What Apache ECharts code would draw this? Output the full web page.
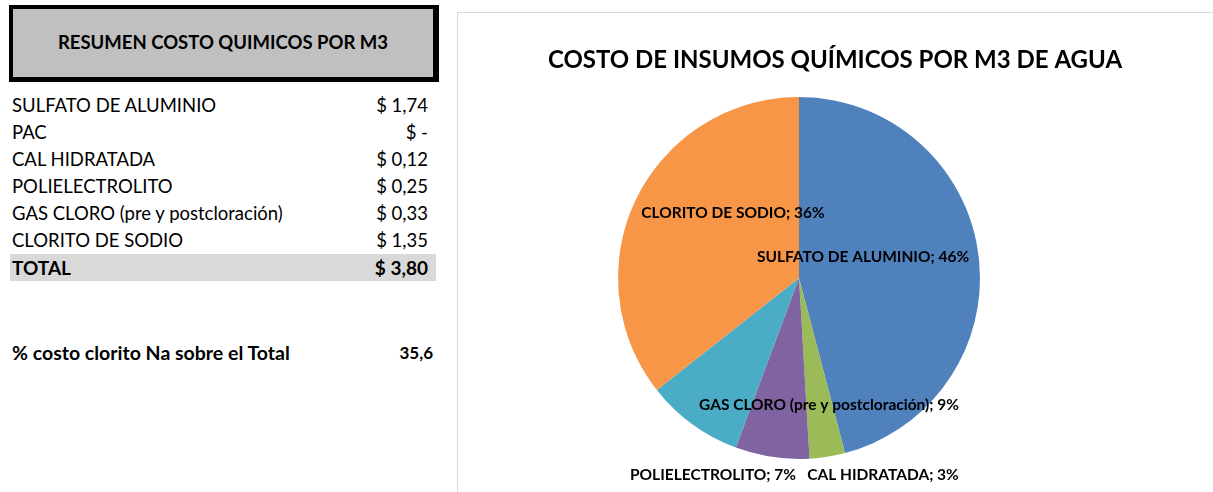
<!DOCTYPE html>
<html>
<head>
<meta charset="utf-8">
<script src="https://cdn.jsdelivr.net/npm/echarts@6/dist/echarts.min.js"></script>
<style>
  html, body { margin: 0; padding: 0; width: 1213px; height: 492px; overflow: hidden; background: #fff; font-family: Lato, "Noto Sans", sans-serif; color: #000; }
  #hdr { position: absolute; left: 9px; top: 5px; width: 430px; height: 77px; box-sizing: border-box;
         border: 4px solid #000; border-right-width: 6px; border-bottom-width: 5px; background: #c0c0c0;
         display: flex; align-items: center; justify-content: center; font-weight: bold; font-size: 18.5px; padding-bottom: 2px; }
  #tbl { position: absolute; left: 10px; top: 92px; width: 426px; }
  .row { position: relative; height: 27px; line-height: 27px; font-size: 18.5px; }
  .row .n { position: absolute; left: 2px; }
  .row .v { position: absolute; right: 8px; }
  .row.total { background: #d9d9d9; font-weight: bold; font-size: 19px; }
  #pct { position: absolute; left: 10px; top: 339px; width: 426px; height: 27px; line-height: 27px; font-size: 19.5px; font-weight: bold; }
  #pct .n { position: absolute; left: 2px; }
  #pct .v { position: absolute; right: 3px; font-size: 17px; }
  #frame { position: absolute; left: 457px; top: 12px; width: 800px; height: 520px; border: 1px solid #d9d9d9; box-sizing: border-box; }
  #chart { position: absolute; left: 457px; top: 12px; width: 756px; height: 480px; }
</style>
</head>
<body>
<div id="hdr"></div>
<div id="tbl"></div>
<div id="pct"><span class="n"></span><span class="v"></span></div>
<div id="frame"></div>
<div id="chart"></div>
<script>
// ---- data ----
const tableTitle = 'RESUMEN COSTO QUIMICOS POR M3';
const chartTitle = 'COSTO DE INSUMOS QUÍMICOS POR M3 DE AGUA';
const categories = ['SULFATO DE ALUMINIO', 'PAC', 'CAL HIDRATADA', 'POLIELECTROLITO', 'GAS CLORO (pre y postcloración)', 'CLORITO DE SODIO'];
const costs = [1.74, 0, 0.12, 0.25, 0.33, 1.35];
const costLabels = ['$ 1,74', '$ -', '$ 0,12', '$ 0,25', '$ 0,33', '$ 1,35'];
const totalName = 'TOTAL';
const totalLabel = '$ 3,80';
const shareName = '% costo clorito Na sobre el Total';
const shareLabel = '35,6';
const colors = ['#4F81BD', '#C0504D', '#9BBB59', '#8064A2', '#4BACC6', '#F79646'];
// label anchor points (chart pixel coords) for each slice label
const labelPos = [[406, 245], null, [426, 463], [256, 463], [372, 393], [276, 201]];

// ---- table ----
document.getElementById('hdr').textContent = tableTitle;
const tbl = document.getElementById('tbl');
categories.forEach((c, i) => {
  const r = document.createElement('div');
  r.className = 'row';
  r.innerHTML = '<span class="n"></span><span class="v"></span>';
  r.children[0].textContent = c;
  r.children[1].textContent = costLabels[i];
  tbl.appendChild(r);
});
const tr = document.createElement('div');
tr.className = 'row total';
tr.innerHTML = '<span class="n"></span><span class="v"></span>';
tr.children[0].textContent = totalName;
tr.children[1].textContent = totalLabel;
tbl.appendChild(tr);
document.querySelector('#pct .n').textContent = shareName;
document.querySelector('#pct .v').textContent = shareLabel;

// ---- chart ----
const total = costs.reduce((a, b) => a + b, 0);
const chart = echarts.init(document.getElementById('chart'), null, { renderer: 'canvas' });
chart.setOption({
  animation: false,
  title: {
    text: chartTitle, left: 'center', top: 31,
    textStyle: { fontFamily: 'Lato', fontWeight: 'bold', fontSize: 24, color: '#000' }
  },
  series: [{
    type: 'pie',
    center: [342, 266],
    radius: 181,
    startAngle: 90,
    clockwise: true,
    avoidLabelOverlap: false,
    label: {
      show: true, position: 'inside',
      formatter: p => p.value > 0 ? p.name + '; ' + Math.round(p.value / total * 100) + '%' : '',
      fontFamily: 'Lato', fontWeight: 'bold', fontSize: 15.5, color: '#000'
    },
    labelLine: { show: false },
    labelLayout: p => {
      const pos = labelPos[p.dataIndex];
      return pos ? { x: pos[0], y: pos[1], align: 'center', verticalAlign: 'middle' } : {};
    },
    itemStyle: { borderWidth: 0 },
    emphasis: { disabled: true },
    data: categories.map((c, i) => ({ name: c, value: costs[i], itemStyle: { color: colors[i] } }))
  }]
});
</script>
</body>
</html>
